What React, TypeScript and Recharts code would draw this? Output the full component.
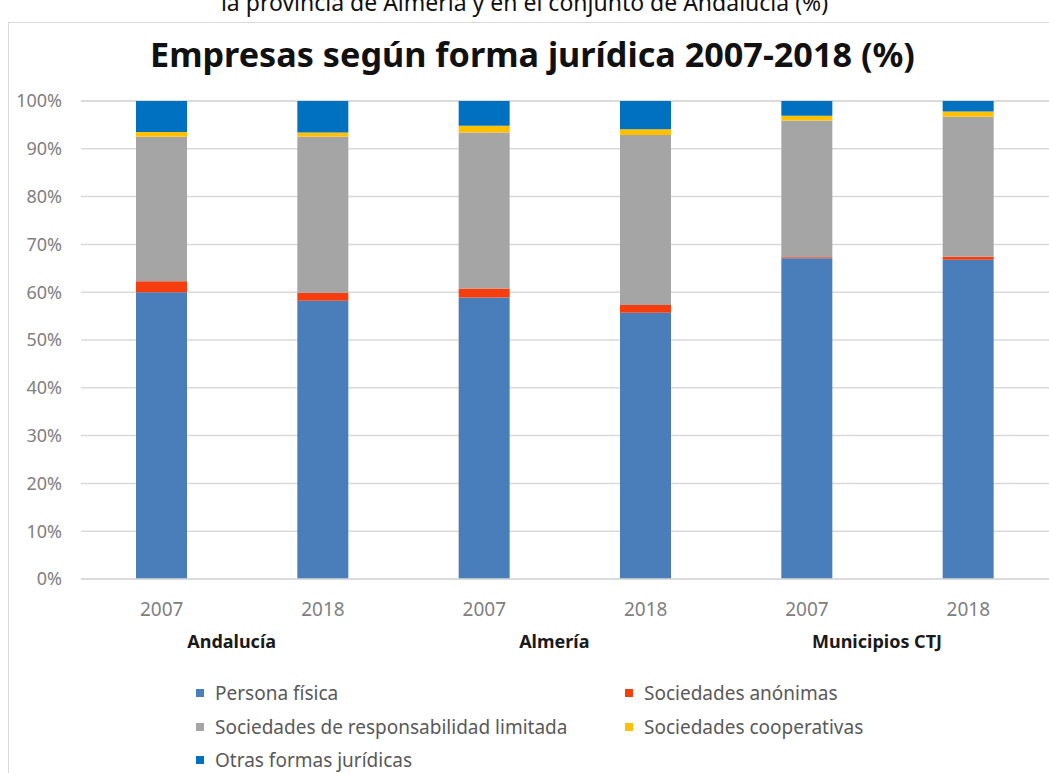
import React from "react";
import { BarChart, Bar, XAxis, YAxis, CartesianGrid, Legend } from "recharts";

const groups = ["Andalucía", "Almería", "Municipios CTJ"];
const years = ["2007", "2018", "2007", "2018", "2007", "2018"];
const personaFisica = [60.0, 58.2, 58.9, 55.7, 67.1, 66.8];
const sociedadesAnonimas = [2.3, 1.7, 1.9, 1.6, 0.2, 0.6];
const sociedadesRL = [30.2, 32.6, 32.6, 35.6, 28.6, 29.3];
const sociedadesCooperativas = [1.0, 0.9, 1.4, 1.2, 1.0, 1.1];
const otrasFormas = [6.5, 6.6, 5.2, 5.9, 3.1, 2.2];
const yTicks = [0, 10, 20, 30, 40, 50, 60, 70, 80, 90, 100];

const seriesNames = [
  "Persona física",
  "Sociedades anónimas",
  "Sociedades de responsabilidad limitada",
  "Sociedades cooperativas",
  "Otras formas jurídicas",
];
const seriesKeys = ["pf", "sa", "srl", "sc", "otras"];
const seriesColors = ["#4A7EBB", "#F53D0E", "#A5A5A5", "#FFC000", "#0070C0"];

const data = years.map((y, i) => ({
  id: `${groups[Math.floor(i / 2)]} ${y}`,
  year: y,
  group: i % 2 === 0 ? groups[i / 2] : "",
  pf: personaFisica[i],
  sa: sociedadesAnonimas[i],
  srl: sociedadesRL[i],
  sc: sociedadesCooperativas[i],
  otras: otrasFormas[i],
}));

const FONT = "'Noto Sans', sans-serif";

const XTick = (props: any) => {
  const { x, y, index } = props;
  const row = data[index];
  return (
    <g>
      <text x={x} y={y + 37} textAnchor="middle" fontFamily={FONT} fontSize={19} fill="#808080">
        {row.year}
      </text>
      {row.group ? (
        <text x={x + 70} y={y + 69} textAnchor="middle" fontFamily={FONT} fontSize={18} fontWeight="bold" fill="#1a1a1a">
          {row.group}
        </text>
      ) : null}
    </g>
  );
};

const LegendContent = () => {
  const cells = [0, 1, 2, 3, 4].map((i) => ({
    i,
    col: i % 2,
    row: Math.floor(i / 2),
  }));
  return (
    <div style={{ position: "relative", width: 800, height: 100 }}>
      {cells.map(({ i, col, row }) => (
        <div
          key={i}
          style={{
            position: "absolute",
            left: col === 0 ? 0 : 429,
            top: row * 33.5,
            display: "flex",
            alignItems: "center",
            height: 24,
            fontFamily: FONT,
            fontSize: 19,
            color: "#595959",
            whiteSpace: "nowrap",
          }}
        >
          <span style={{ display: "inline-block", width: 8, height: 8, background: seriesColors[i], marginRight: 11 }} />
          {seriesNames[i]}
        </div>
      ))}
    </div>
  );
};

export default function App() {
  return (
    <div style={{ position: "absolute", left: 0, top: 0, width: 1049, height: 773, background: "#fff", overflow: "hidden" }}>
      <div
        style={{
          position: "absolute",
          left: 0,
          width: 1049,
          top: -14,
          textAlign: "center",
          fontFamily: FONT,
          fontSize: 23,
          color: "#111",
          whiteSpace: "nowrap",
        }}
      >
        la provincia de Almería y en el conjunto de Andalucía (%)
      </div>
      <div
        style={{
          position: "absolute",
          left: 8,
          top: 22,
          width: 1100,
          height: 800,
          borderLeft: "1px solid #D9D9D9",
          borderTop: "1px solid #D9D9D9",
        }}
      />
      <div
        style={{
          position: "absolute",
          left: 8,
          width: 1049,
          top: 30,
          textAlign: "center",
          fontFamily: FONT,
          fontSize: 34.2,
          fontWeight: "bold",
          color: "#111",
          whiteSpace: "nowrap",
        }}
      >
        Empresas según forma jurídica 2007-2018 (%)
      </div>
      <div style={{ position: "absolute", left: 0, top: 0 }}>
        <BarChart
          width={1049}
          height={773}
          data={data}
          margin={{ top: 101, right: 0, left: 0, bottom: 0 }}
          barSize={51}
        >
          <CartesianGrid vertical={false} stroke="#D9D9D9" strokeWidth={1.5} />
          <XAxis
            dataKey="id"
            height={194}
            tick={<XTick />}
            tickLine={false}
            tickSize={0}
            tickMargin={0}
            axisLine={{ stroke: "#D9D9D9", strokeWidth: 1.5 }}
            interval={0}
          />
          <YAxis
            width={81}
            domain={[0, 100]}
            ticks={yTicks}
            tickFormatter={(v: number) => `${v}%`}
            axisLine={false}
            tickLine={false}
            tickSize={0}
            tickMargin={19}
            tick={{ fontFamily: FONT, fontSize: 18, fill: "#808080" }}
          />
          <Legend
            layout="horizontal"
            verticalAlign="middle"
            align="center"
            wrapperStyle={{ position: "absolute", left: 196, top: 681, width: 800 }}
            content={<LegendContent />}
          />
          {seriesKeys.map((k, i) => (
            <Bar key={k} dataKey={k} name={seriesNames[i]} stackId="a" fill={seriesColors[i]} isAnimationActive={false} />
          ))}
        </BarChart>
      </div>
    </div>
  );
}
